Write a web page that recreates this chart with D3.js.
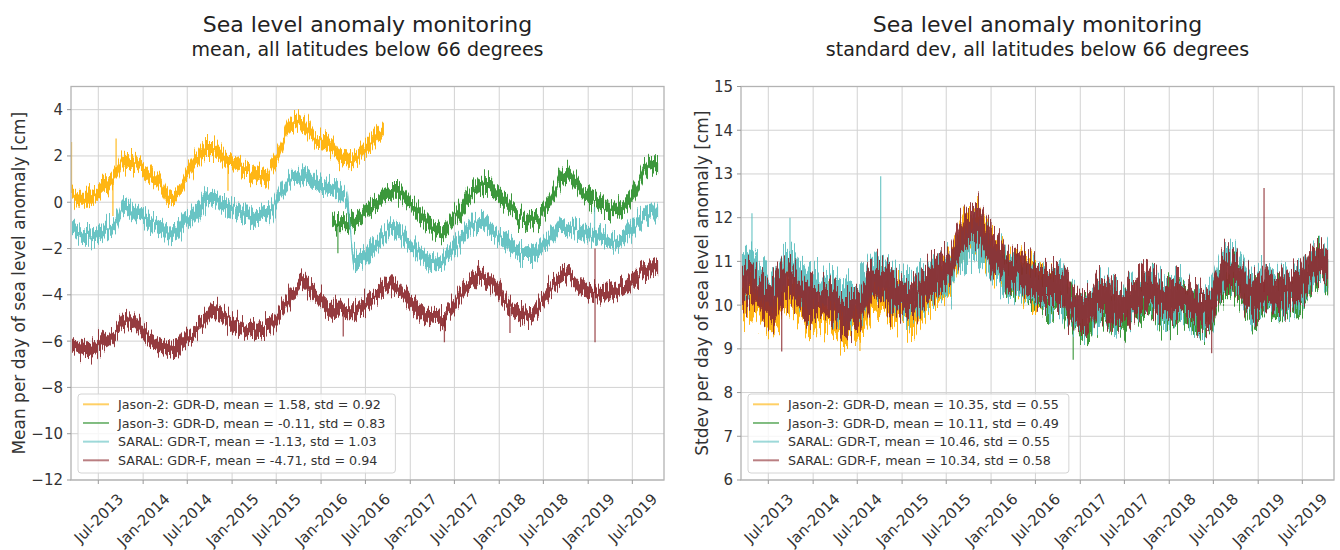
<!DOCTYPE html>
<html>
<head>
<meta charset="utf-8">
<script src="https://cdn.jsdelivr.net/npm/d3@7"></script>
<style>
  body { margin: 0; background: #fff; }
  svg { font-family: "DejaVu Sans", sans-serif; }
</style>
</head>
<body>
<svg id="main" width="1340" height="550"></svg>
<script>
// ---- data (monthly values) ----
var seriesNames = ["Jason-2: GDR-D", "Jason-3: GDR-D", "SARAL: GDR-T", "SARAL: GDR-F"];
var seriesStart = ["2013-03", "2016-02", "2013-03", "2013-03"];
var colors = ["#ffb000", "#2b8f2b", "#5cbfbf", "#8c2a2f"];

var xTickMonths = ["2013-07", "2014-01", "2014-07", "2015-01", "2015-07", "2016-01", "2016-07",
                   "2017-01", "2017-07", "2018-01", "2018-07", "2019-01", "2019-07"];

// mean panel
var meanTicks = [-12, -10, -8, -6, -4, -2, 0, 2, 4];
var meanJason2 = [0.4, 0.15, 0.15, 0.3, 0.55, 0.85, 1.3, 1.8, 1.75, 1.55,
                  1.35, 1.1, 0.75, 0.2, 0.3, 0.9, 1.45, 1.95, 2.3, 2.3,
                  2.05, 1.75, 1.7, 1.5, 1.35, 1.2, 1.05, 1.6, 2.2, 3.05,
                  3.35, 3.5, 3.1, 2.65, 2.6, 2.4, 2.0, 1.9, 1.85, 2.15,
                  2.45, 2.85, 3.2];
var meanJason3 = [-0.8, -0.95, -0.95, -0.85, -0.65, -0.3, -0.05, 0.3, 0.45, 0.45,
                  0.15, -0.25, -0.55, -0.9, -1.2, -1.3, -0.85, -0.45, 0.0, 0.45,
                  0.7, 0.75, 0.45, 0.15, -0.2, -0.5, -0.75, -0.85, -0.6, -0.15,
                  0.4, 1.05, 1.2, 0.8, 0.4, 0.2, 0.0, -0.2, -0.35, -0.25,
                  0.05, 0.5, 1.2, 1.6, 1.65];
var meanSaralT = [-1.1, -1.35, -1.5, -1.45, -1.35, -1.1, -0.85, -0.15, -0.35, -0.6,
                  -0.8, -0.9, -1.05, -1.35, -1.3, -0.9, -0.6, -0.3, 0.1, 0.2,
                  -0.05, -0.2, -0.3, -0.45, -0.5, -0.6, -0.55, -0.3, 0.35, 0.8,
                  1.15, 1.25, 1.05, 0.75, 0.65, 0.6, 0.4, 0.1, -2.4, -2.45,
                  -2.15, -1.8, -1.45, -1.15, -1.3, -1.65, -1.95, -2.3, -2.55, -2.6,
                  -2.5, -2.1, -1.75, -1.35, -0.95, -0.85, -1.0, -1.3, -1.65, -1.85,
                  -2.05, -2.2, -2.2, -2.0, -1.65, -1.3, -0.9, -1.0, -1.25, -1.4,
                  -1.4, -1.45, -1.55, -1.75, -1.6, -1.3, -0.95, -0.6, -0.4, -0.4];
var meanSaralF = [-6.1, -6.25, -6.35, -6.3, -6.05, -5.85, -5.55, -5.15, -5.1, -5.35,
                  -5.8, -6.05, -6.2, -6.3, -6.35, -6.0, -5.75, -5.45, -5.05, -4.7,
                  -4.8, -5.1, -5.3, -5.4, -5.5, -5.55, -5.45, -5.25, -4.8, -4.3,
                  -3.8, -3.45, -3.8, -4.1, -4.4, -4.65, -4.55, -4.75, -4.75, -4.5,
                  -4.3, -3.95, -3.7, -3.5, -3.65, -4.1, -4.45, -4.7, -4.95, -5.0,
                  -4.95, -4.65, -4.2, -3.7, -3.45, -3.25, -3.35, -3.7, -4.1, -4.55,
                  -4.75, -4.85, -4.8, -4.45, -3.95, -3.5, -3.2, -3.1, -3.4, -3.75,
                  -3.9, -3.95, -3.95, -3.85, -3.75, -3.55, -3.25, -3.0, -2.85, -3.0];
var meanScatter = [0.3, 0.3, 0.3, 0.3];   // half spread of the daily values
var meanMeans = [1.58, -0.11, -1.13, -4.71];
var meanStds = [0.92, 0.83, 1.03, 0.94];
var meanSpikes = [
  [0, "2013-03-13", 2.6], [0, "2013-08-30", -0.6], [0, "2013-09-12", 2.75], [0, "2014-12-15", 0.5],
  [1, "2016-03-10", -2.2],
  [2, "2019-01-27", -0.2],
  [3, "2016-04-01", -5.8], [3, "2017-05-21", -6.05], [3, "2018-02-14", -5.65],
  [3, "2019-01-29", -6.05], [3, "2019-01-29", -2.0]
];

// standard deviation panel
var stdTicks = [6, 7, 8, 9, 10, 11, 12, 13, 14, 15];
var stdJason2 = [10.2, 10.25, 10.1, 9.9, 9.8, 10.05, 10.3, 10.2, 10.0, 9.8,
                 9.85, 9.85, 9.8, 9.65, 9.55, 9.6, 9.7, 10.1, 10.3, 10.25,
                 10.1, 9.95, 9.9, 9.85, 10.05, 10.25, 10.4, 10.55, 10.7, 11.15,
                 11.6, 11.75, 11.7, 11.4, 11.1, 10.9, 10.7, 10.75, 10.65, 10.55,
                 10.4, 10.35, 10.35];
var stdJason3 = [10.85, 10.65, 10.7, 10.6, 10.45, 10.3, 10.25, 10.25, 10.25, 10.0,
                 9.7, 9.65, 9.75, 10.05, 10.0, 9.8, 9.7, 9.85, 10.0, 10.1,
                 10.2, 10.05, 9.9, 10.0, 10.05, 9.95, 9.8, 9.75, 9.8, 10.25,
                 10.55, 10.6, 10.45, 10.15, 10.0, 10.1, 10.25, 10.1, 10.1, 10.2,
                 10.25, 10.45, 10.75, 10.8, 10.65];
var stdSaralT = [10.7, 10.85, 10.7, 10.5, 10.35, 10.55, 10.8, 10.75, 10.5, 10.3,
                 10.35, 10.35, 10.3, 10.15, 10.05, 10.1, 10.2, 10.55, 10.7, 10.6,
                 10.45, 10.3, 10.25, 10.2, 10.35, 10.5, 10.6, 10.65, 10.7, 11.05,
                 11.35, 11.45, 11.4, 11.2, 10.95, 10.8, 10.65, 10.7, 10.6, 10.55,
                 10.4, 10.35, 10.35, 10.4, 10.1, 9.85, 9.8, 9.9, 10.2, 10.15,
                 9.95, 9.85, 10.0, 10.15, 10.25, 10.35, 10.2, 10.05, 10.15, 10.2,
                 10.1, 9.95, 9.85, 9.95, 10.4, 10.85, 10.9, 10.7, 10.4, 10.2,
                 10.3, 10.4, 10.25, 10.25, 10.35, 10.4, 10.6, 10.85, 10.9, 10.7];
var stdSaralF = [10.45, 10.5, 10.35, 10.15, 10.05, 10.3, 10.55, 10.45, 10.25, 10.05,
                 10.1, 10.1, 10.05, 9.9, 9.8, 9.85, 9.95, 10.35, 10.55, 10.5,
                 10.35, 10.2, 10.15, 10.1, 10.3, 10.5, 10.65, 10.75, 10.85, 11.3,
                 11.7, 11.85, 11.8, 11.5, 11.2, 11.0, 10.8, 10.85, 10.75, 10.65,
                 10.5, 10.45, 10.45, 10.45, 10.2, 9.9, 9.85, 9.95, 10.25, 10.2,
                 10.0, 9.9, 10.05, 10.2, 10.3, 10.4, 10.25, 10.1, 10.2, 10.25,
                 10.15, 10.0, 9.9, 9.95, 10.35, 10.75, 10.8, 10.65, 10.35, 10.2,
                 10.3, 10.45, 10.3, 10.3, 10.4, 10.45, 10.65, 10.95, 11.0, 10.85];
var stdScatter = [0.4, 0.38, 0.42, 0.4];
var stdMeans = [10.35, 10.11, 10.46, 10.34];
var stdStds = [0.55, 0.49, 0.55, 0.58];
var stdSpikes = [
  [0, "2014-07-12", 8.95],
  [1, "2016-12-03", 8.75],
  [2, "2013-04-25", 12.1], [2, "2013-09-28", 12.0], [2, "2014-10-05", 12.95],
  [3, "2013-08-25", 8.94], [3, "2018-06-24", 8.9], [3, "2019-01-25", 12.68]
];

// ---- drawing ----
var parseMonth = d3.timeParse("%Y-%m");
var parseDay = d3.timeParse("%Y-%m-%d");
var months = d3.timeMonth.range(parseMonth("2013-03"), parseMonth("2019-11"));
var xTicks = xTickMonths.map(parseMonth);
var xDomain = [parseDay("2013-03-11"), parseDay("2019-11-08")];
var plotTop = 86.5, plotBottom = 480;

var svg = d3.select("svg#main");
var defs = svg.append("defs");

var panels = [
  { left: 71, right: 664, yDomain: [-12, 5], yTicks: meanTicks,
    subtitle: "mean, all latitudes below 66 degrees",
    ylabel: "Mean per day of sea level anomaly [cm]",
    series: [meanJason2, meanJason3, meanSaralT, meanSaralF],
    scatter: meanScatter, spikes: meanSpikes, means: meanMeans, stds: meanStds, jitter: 30 },
  { left: 741, right: 1334, yDomain: [6, 15], yTicks: stdTicks,
    subtitle: "standard dev, all latitudes below 66 degrees",
    ylabel: "Stdev per day of sea level anomaly [cm]",
    series: [stdJason2, stdJason3, stdSaralT, stdSaralF],
    scatter: stdScatter, spikes: stdSpikes, means: stdMeans, stds: stdStds, jitter: 60 }
];

function seriesPoints(start, values) {
  var i0 = d3.timeMonth.count(months[0], parseMonth(start));
  return values.map(function(v, k) {
    return { date: d3.timeDay.offset(months[i0 + k], 14), v: v };
  });
}

panels.forEach(function(p, pi) {
  var x = d3.scaleTime().domain(xDomain).range([p.left, p.right]);
  var y = d3.scaleLinear().domain(p.yDomain).range([plotBottom, plotTop]);
  var g = svg.append("g");
  var cx = (p.left + p.right) / 2;

  g.append("text").attr("x", cx).attr("y", 32).attr("text-anchor", "middle")
    .style("font-size", "22px").attr("fill", "#222").text("Sea level anomaly monitoring");
  g.append("text").attr("x", cx).attr("y", 56).attr("text-anchor", "middle")
    .style("font-size", "19px").attr("fill", "#222").text(p.subtitle);

  // grid
  g.selectAll("line.vg").data(xTicks).enter().append("line").attr("class", "vg")
    .attr("x1", function(d) { return x(d); }).attr("x2", function(d) { return x(d); })
    .attr("y1", plotTop).attr("y2", plotBottom).attr("stroke", "#d2d2d2");
  g.selectAll("line.hg").data(p.yTicks).enter().append("line").attr("class", "hg")
    .attr("y1", function(d) { return y(d); }).attr("y2", function(d) { return y(d); })
    .attr("x1", p.left).attr("x2", p.right).attr("stroke", "#d2d2d2");

  defs.append("clipPath").attr("id", "clip" + pi).append("rect")
    .attr("x", p.left).attr("y", plotTop).attr("width", p.right - p.left).attr("height", plotBottom - plotTop);

  var dataG = g.append("g").attr("clip-path", "url(#clip" + pi + ")");

  p.series.forEach(function(vals, si) {
    var pts = seriesPoints(seriesStart[si], vals);
    var hw = p.scatter[si];

    // texture filter: gives the band the look of daily noise
    var f = defs.append("filter").attr("id", "jit" + pi + si)
      .attr("filterUnits", "userSpaceOnUse")
      .attr("x", p.left - 20).attr("y", plotTop - 60)
      .attr("width", p.right - p.left + 40).attr("height", plotBottom - plotTop + 120)
      .attr("color-interpolation-filters", "sRGB");
    f.append("feTurbulence").attr("type", "fractalNoise").attr("baseFrequency", "0.7 0.02")
      .attr("numOctaves", 2).attr("seed", 3 + si * 7 + pi * 11).attr("result", "noise");
    f.append("feColorMatrix").attr("in", "noise").attr("type", "matrix")
      .attr("values", "1 0 0 0 0  0 1 0 0 0  0 0 0 0 0.5  0 0 0 0 1").attr("result", "map");
    f.append("feDisplacementMap").attr("in", "SourceGraphic").attr("in2", "map")
      .attr("scale", p.jitter).attr("xChannelSelector", "B").attr("yChannelSelector", "R");

    var area = d3.area()
      .x(function(d) { return x(d.date); })
      .y0(function(d) { return y(d.v - hw); })
      .y1(function(d) { return y(d.v + hw); })
      .curve(d3.curveMonotoneX);

    dataG.append("g").attr("filter", "url(#jit" + pi + si + ")")
      .append("path").datum(pts).attr("d", area)
      .attr("fill", colors[si]).attr("fill-opacity", 0.92);

    var bis = d3.bisector(function(d) { return d.date; });
    p.spikes.filter(function(s) { return s[0] === si; }).forEach(function(s) {
      var d = parseDay(s[1]);
      var near = pts[bis.center(pts, d)];
      dataG.append("line").attr("x1", x(d)).attr("x2", x(d))
        .attr("y1", y(near.v)).attr("y2", y(s[2]))
        .attr("stroke", colors[si]).attr("stroke-width", 1.3).attr("stroke-opacity", 0.8);
    });
  });

  // frame
  g.append("rect").attr("x", p.left).attr("y", plotTop)
    .attr("width", p.right - p.left).attr("height", plotBottom - plotTop)
    .attr("fill", "none").attr("stroke", "#b3b3b3").attr("stroke-width", 1.3);

  // x ticks
  g.selectAll("line.xt").data(xTicks).enter().append("line")
    .attr("x1", function(d) { return x(d); }).attr("x2", function(d) { return x(d); })
    .attr("y1", plotBottom).attr("y2", plotBottom + 4).attr("stroke", "#999");
  var fmt = d3.timeFormat("%b-%Y");
  var fs = 15, asc = fs * 0.76;
  g.selectAll("text.xl").data(xTicks).enter().append("text").attr("class", "xl")
    .attr("text-anchor", "end").style("font-size", fs + "px").attr("fill", "#333")
    .text(function(d) { return fmt(d); })
    .each(function(d) {
      var w = this.getComputedTextLength();
      var px = x(d) + (w + asc) * 0.3536;
      var py = plotBottom + 12 + asc * 0.7071;
      d3.select(this).attr("transform", "translate(" + px + "," + py + ") rotate(-45)");
    });

  // y ticks
  g.selectAll("line.yt").data(p.yTicks).enter().append("line")
    .attr("y1", function(d) { return y(d); }).attr("y2", function(d) { return y(d); })
    .attr("x1", p.left - 4).attr("x2", p.left).attr("stroke", "#999");
  var maxW = 0;
  g.selectAll("text.yl").data(p.yTicks).enter().append("text").attr("class", "yl")
    .attr("x", p.left - 8).attr("y", function(d) { return y(d); }).attr("dy", "0.36em")
    .attr("text-anchor", "end").style("font-size", fs + "px").attr("fill", "#333")
    .text(d3.format("d"))
    .each(function() { maxW = Math.max(maxW, this.getComputedTextLength()); });

  g.append("text")
    .attr("transform", "translate(" + (p.left - 8 - maxW - 6) + "," + ((plotTop + plotBottom) / 2) + ") rotate(-90)")
    .attr("text-anchor", "middle").style("font-size", "17px").attr("fill", "#333").text(p.ylabel);

  // legend
  var lg = g.append("g");
  var bx = p.left + 7, by = plotBottom - 86;
  var box = lg.append("rect").attr("x", bx).attr("y", by).attr("height", 79).attr("rx", 3)
    .attr("fill", "#fff").attr("fill-opacity", 0.8).attr("stroke", "#d4d4d4");
  var lw = 0;
  seriesNames.forEach(function(n, i) {
    var cy = by + 10.3 + i * 18.67;
    lg.append("line").attr("x1", bx + 5).attr("x2", bx + 31).attr("y1", cy).attr("y2", cy)
      .attr("stroke", colors[i]).attr("stroke-opacity", 0.6).attr("stroke-width", 2);
    var t = lg.append("text").attr("x", bx + 40).attr("y", cy).attr("dy", "0.36em")
      .style("font-size", "12.7px").attr("fill", "#333")
      .text(n + ", mean = " + p.means[i].toFixed(2) + ", std = " + p.stds[i].toFixed(2));
    lw = Math.max(lw, t.node().getComputedTextLength());
  });
  box.attr("width", 40 + lw + 10);
});
</script>
</body>
</html>
